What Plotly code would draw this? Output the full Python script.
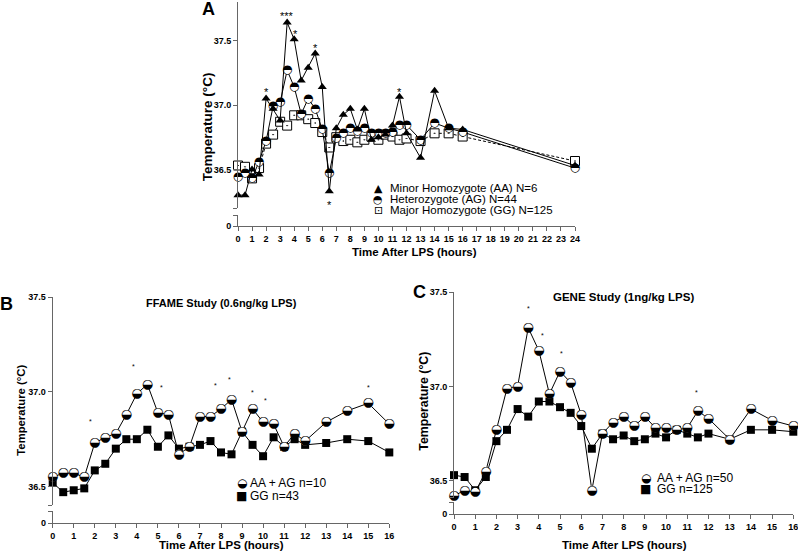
import plotly.graph_objects as go

W, H = 798, 554
FONT = "Liberation Sans, Arial, sans-serif"
GLYPH = "DejaVu Sans"

# ---------------- data ----------------
a_time = [0, 0.5, 1, 1.5, 2, 2.5, 3, 3.5, 4, 4.5, 5, 5.5, 6, 6.5, 7, 7.5, 8, 8.5, 9, 9.5,
          10, 10.5, 11, 11.5, 12, 13, 14, 15, 16, 24]
a_aa = [36.30, 36.30, 36.50, 36.46, 37.05, 36.97, 36.88, 37.64, 37.51, 37.19, 37.29, 37.40,
        37.14, 36.33, 36.82, 36.925, 36.97, 36.81, 36.97, 36.73, 36.75, 36.77, 36.84, 37.065,
        36.78, 36.59, 37.11, 36.82, 36.81, 36.53]
a_ag = [36.44, 36.47, 36.43, 36.56, 36.72, 36.99, 37.02, 37.27, 37.14, 36.93, 37.05, 36.97,
        36.81, 36.47, 36.74, 36.78, 36.82, 36.80, 36.82, 36.785, 36.78, 36.78, 36.79, 36.845,
        36.845, 36.73, 36.86, 36.82, 36.79, 36.51]
a_gg = [36.53, 36.52, 36.43, 36.51, 36.70, 36.77, 36.87, 36.84, 36.92, 36.92, 36.89, 36.86,
        36.79, 36.67, 36.75, 36.72, 36.73, 36.71, 36.73, 36.755, 36.73, 36.77, 36.755, 36.73,
        36.74, 36.72, 36.78, 36.78, 36.755, 36.565]
a_names = ["Minor Homozygote (AA) N=6", "Heterozygote (AG) N=44", "Major Homozygote (GG) N=125"]
a_star_x = [2, 3.5, 4.08, 5.5, 6.5, 11.5]
a_star_y = [37.10, 37.69, 37.55, 37.44, 36.22, 37.10]
a_star_t = ["*", "***", "*", "*", "*", "*"]
a_xticks = list(range(0, 25))

bc_time = [0, 0.5, 1, 1.5, 2, 2.5, 3, 3.5, 4, 4.5, 5, 5.5, 6, 6.5, 7, 7.5, 8, 8.5, 9, 9.5,
           10, 10.5, 11, 11.5, 12, 13, 14, 15, 16]
b_aaag = [36.55, 36.57, 36.57, 36.55, 36.73, 36.76, 36.78, 36.88, 36.99, 37.04, 36.89, 36.88,
          36.67, 36.71, 36.87, 36.87, 36.91, 36.96, 36.79, 36.91, 36.84, 36.83, 36.71, 36.78,
          36.74, 36.84, 36.90, 36.94, 36.83]
b_gg = [36.52, 36.47, 36.48, 36.49, 36.585, 36.62, 36.70, 36.75, 36.75, 36.80, 36.71, 36.77,
        36.70, 36.71, 36.72, 36.74, 36.68, 36.67, 36.79, 36.72, 36.66, 36.76, 36.71, 36.75,
        36.72, 36.73, 36.75, 36.74, 36.68]
b_names = ["AA + AG n=10", "GG n=43"]
b_star_x = [1.8, 3.85, 5.15, 7.74, 8.4, 9.5, 10.1, 15]
b_star_y = [36.845, 37.134, 37.024, 37.035, 37.063, 36.998, 36.954, 37.021]

c_aaag = [36.42, 36.45, 36.44, 36.55, 36.77, 36.99, 37.00, 37.31, 37.19, 36.96, 37.08, 37.02,
          36.85, 36.45, 36.75, 36.81, 36.84, 36.79, 36.84, 36.78, 36.78, 36.77, 36.78, 36.87,
          36.83, 36.72, 36.88, 36.82, 36.79]
c_gg = [36.53, 36.52, 36.45, 36.52, 36.71, 36.77, 36.88, 36.84, 36.92, 36.92, 36.89, 36.86,
        36.79, 36.67, 36.75, 36.72, 36.74, 36.71, 36.72, 36.75, 36.73, 36.77, 36.75, 36.73,
        36.75, 36.72, 36.77, 36.77, 36.76]
c_names = ["AA + AG n=50", "GG n=125"]
c_star_x = [3.5, 4.15, 5.06, 6.5, 11.45]
c_star_y = [37.413, 37.267, 37.175, 36.385, 36.966]
bc_xticks = list(range(0, 17))


def px(x):
    return x / W


def py(y):
    return 1 - y / H


fig = go.Figure()

# ---------------- Panel A traces ----------------
fig.add_trace(go.Scatter(x=a_time, y=a_gg, xaxis="x", yaxis="y", mode="lines+markers",
                         line=dict(color="black", width=1, dash="3px,2px"),
                         marker=dict(symbol="square-dot", size=9, color="white",
                                     line=dict(color="black", width=1)),
                         cliponaxis=False, showlegend=False))
fig.add_trace(go.Scatter(x=a_time, y=a_ag, xaxis="x", yaxis="y", mode="lines+markers+text",
                         line=dict(color="black", width=1),
                         marker=dict(symbol="circle", size=8, color="white", line=dict(width=0)),
                         text=["◓"] * len(a_time), textposition="middle center",
                         textfont=dict(family=GLYPH, size=12, color="black"),
                         cliponaxis=False, showlegend=False))
fig.add_trace(go.Scatter(x=a_time, y=a_aa, xaxis="x", yaxis="y", mode="lines+markers",
                         line=dict(color="black", width=1),
                         marker=dict(symbol="triangle-up", size=8, color="black"),
                         cliponaxis=False, showlegend=False))

# ---------------- Panel B traces ----------------
fig.add_trace(go.Scatter(x=bc_time, y=b_gg, xaxis="x2", yaxis="y3", mode="lines+markers",
                         line=dict(color="black", width=1),
                         marker=dict(symbol="square", size=8, color="black"),
                         cliponaxis=False, showlegend=False))
fig.add_trace(go.Scatter(x=bc_time, y=b_aaag, xaxis="x2", yaxis="y3", mode="lines+markers+text",
                         line=dict(color="black", width=1),
                         marker=dict(symbol="circle", size=9, color="white", line=dict(width=0)),
                         text=["◒"] * len(bc_time), textposition="middle center",
                         textfont=dict(family=GLYPH, size=13, color="black"),
                         cliponaxis=False, showlegend=False))

# ---------------- Panel C traces ----------------
fig.add_trace(go.Scatter(x=bc_time, y=c_gg, xaxis="x3", yaxis="y5", mode="lines+markers",
                         line=dict(color="black", width=1),
                         marker=dict(symbol="square", size=8, color="black"),
                         cliponaxis=False, showlegend=False))
fig.add_trace(go.Scatter(x=bc_time, y=c_aaag, xaxis="x3", yaxis="y5", mode="lines+markers+text",
                         line=dict(color="black", width=1),
                         marker=dict(symbol="circle", size=9, color="white", line=dict(width=0)),
                         text=["◒"] * len(bc_time), textposition="middle center",
                         textfont=dict(family=GLYPH, size=13, color="black"),
                         cliponaxis=False, showlegend=False))

# empty traces so the stub subplots exist
for xa, ya in [("x", "y2"), ("x2", "y4"), ("x3", "y6")]:
    fig.add_trace(go.Scatter(x=[], y=[], xaxis=xa, yaxis=ya, showlegend=False))

AXC = "#666666"
tickfont = dict(family=FONT, size=9, color="black", weight="bold")


def xaxis(domain, rng, ticks, anchor):
    return dict(domain=domain, range=rng, anchor=anchor, showline=True, linecolor=AXC,
                linewidth=1, ticks="outside", ticklen=4, tickcolor=AXC, tickwidth=1,
                tickvals=ticks, tickfont=tickfont, showgrid=False, zeroline=False,
                automargin=False, fixedrange=True, ticklabeloverflow="allow")


def yupper(domain, rng, tickvals, ticktext, anchor):
    return dict(domain=domain, range=rng, anchor=anchor, showline=True, linecolor=AXC,
                linewidth=1, ticks="outside", ticklen=4, tickcolor=AXC, tickwidth=1,
                tickvals=tickvals, ticktext=ticktext, tickfont=tickfont,
                showgrid=False, zeroline=False, automargin=False, fixedrange=True)


def ystub(domain, anchor):
    return dict(domain=domain, range=[0, 1], anchor=anchor, showline=True, linecolor=AXC,
                linewidth=1, ticks="outside", ticklen=4, tickcolor=AXC, tickwidth=1,
                tickvals=[0, 1], ticktext=["0", ""], tickfont=tickfont,
                showgrid=False, zeroline=False, automargin=False, fixedrange=True)


fig.update_layout(
    width=W, height=H, margin=dict(l=0, r=0, t=0, b=0, pad=0),
    paper_bgcolor="white", plot_bgcolor="rgba(0,0,0,0)",
    font=dict(family=FONT, color="black"),
    showlegend=False,
    xaxis=xaxis([px(238), px(575)], [0, 24], a_xticks, "y2"),
    yaxis=yupper([py(208), py(2)], [36.2, 37.8], [36.2, 36.5, 37.0, 37.5],
                 ["", "36.5", "37.0", "37.5"], "x"),
    yaxis2=ystub([py(226), py(215)], "x"),
    xaxis2=xaxis([px(52.7), px(389.3)], [0, 16], bc_xticks, "y4"),
    yaxis3=yupper([py(505.4), py(297.3)], [36.4, 37.5], [36.4, 36.5, 37.0, 37.5],
                  ["", "36.5", "37.0", "37.5"], "x2"),
    yaxis4=ystub([py(523), py(511)], "x2"),
    xaxis3=xaxis([px(454), px(793.3)], [0, 16], bc_xticks, "y6"),
    yaxis5=yupper([py(497.8), py(292)], [36.41, 37.5], [36.41, 36.5, 37.0, 37.5],
                  ["", "36.5", "37.0", "37.5"], "x3"),
    yaxis6=ystub([py(514.3), py(502)], "x3"),
)

ann = []


def label(text, x, y, size, bold=True, angle=0, xanchor="center", family=FONT):
    ann.append(dict(text=text, x=px(x), y=py(y), xref="paper", yref="paper",
                    xanchor=xanchor, yanchor="middle", showarrow=False, textangle=angle,
                    font=dict(family=family, size=size, color="black",
                              weight="bold" if bold else "normal")))


# panel letters
label("A", 208.3, 9, 18)
label("B", 6, 303.5, 18)
label("C", 419, 292, 18)

# axis titles
label("Time After LPS (hours)", 414, 251.7, 11.5)
label("Temperature (°C)", 207.5, 126.7, 13.5, angle=-90)
label("Time After LPS (hours)", 221, 545, 11.5)
label("Temperature (°C)", 21, 410.7, 11.3, angle=-90)
label("Time After LPS (hours)", 624.5, 545, 11.5)
label("Temperature (°C)", 424, 401.7, 12.3, angle=-90)

# panel titles
label("FFAME Study (0.6ng/kg LPS)", 221.5, 303, 11)
label("GENE Study (1ng/kg LPS)", 623.3, 297, 11.5)

# legends
a_syms = ["▲", "◓", "⊡"]
for i, (s, n) in enumerate(zip(a_syms, a_names)):
    yy = [188.3, 199.3, 210][i]
    label(s, 378, yy, 11, bold=False, family=GLYPH)
    label(n, 388.3, yy, 11.5, bold=False, xanchor="left")
bc_syms = ["◒", "■"]
for i, (s, n) in enumerate(zip(bc_syms, b_names)):
    yy = [483.3, 495.7][i]
    label(s, 241.7, yy, 12, bold=False, family=GLYPH)
    label(n, 248.3, yy, 12, bold=False, xanchor="left")
for i, (s, n) in enumerate(zip(bc_syms, c_names)):
    yy = [478.3, 489.3][i]
    label(s, 645.7, yy, 12, bold=False, family=GLYPH)
    label(n, 655, yy, 12, bold=False, xanchor="left")

# significance stars
for x, y, t in zip(a_star_x, a_star_y, a_star_t):
    ann.append(dict(text=t, x=x, y=y, xref="x", yref="y", showarrow=False,
                    font=dict(family=FONT, size=11, color="black")))
for x, y in zip(b_star_x, b_star_y):
    ann.append(dict(text="*", x=x, y=y, xref="x2", yref="y3", showarrow=False,
                    font=dict(family=FONT, size=7, color="black")))
for x, y in zip(c_star_x, c_star_y):
    ann.append(dict(text="*", x=x, y=y, xref="x3", yref="y5", showarrow=False,
                    font=dict(family=FONT, size=7, color="black")))

fig.update_layout(annotations=ann)
fig.write_html("out.html",
               config={"displayModeBar": False, "staticPlot": True},
               post_script="document.body.style.margin='0px';"
                           "document.body.style.overflow='hidden';")
